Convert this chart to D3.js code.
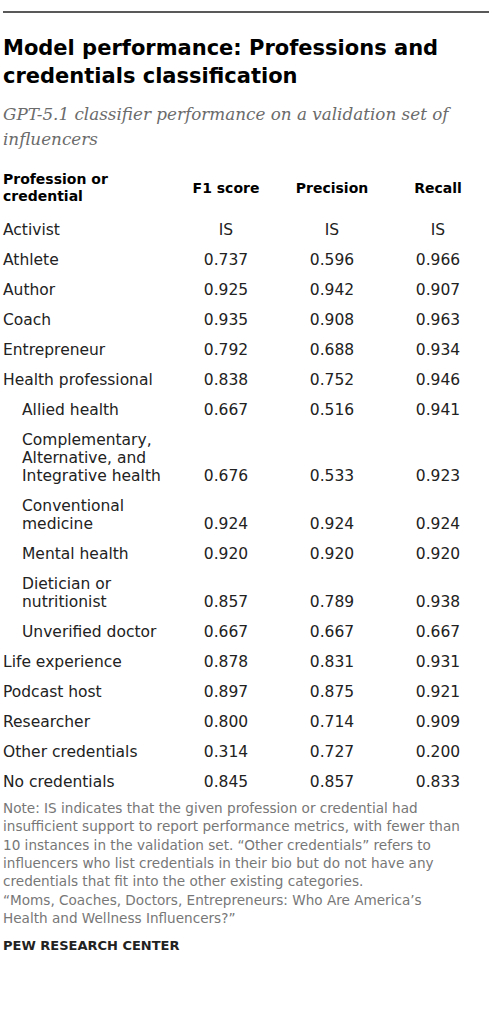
<!DOCTYPE html>
<html><head><meta charset="utf-8">
<script src="https://cdn.jsdelivr.net/npm/d3@7"></script>
<style>body{margin:0;background:#fff}</style>
</head><body><div id="chart"></div>
<script>
// table data
const labels = [["Activist"],["Athlete"],["Author"],["Coach"],["Entrepreneur"],["Health professional"],
  ["Allied health"],["Complementary,","Alternative, and","Integrative health"],["Conventional","medicine"],
  ["Mental health"],["Dietician or","nutritionist"],["Unverified doctor"],["Life experience"],
  ["Podcast host"],["Researcher"],["Other credentials"],["No credentials"]];
const indented = [false,false,false,false,false,false,true,true,true,true,true,true,false,false,false,false,false];
const f1 = ["IS","0.737","0.925","0.935","0.792","0.838","0.667","0.676","0.924","0.920","0.857","0.667","0.878","0.897","0.800","0.314","0.845"];
const precision = ["IS","0.596","0.942","0.908","0.688","0.752","0.516","0.533","0.924","0.920","0.789","0.667","0.831","0.875","0.714","0.727","0.857"];
const recall = ["IS","0.966","0.907","0.963","0.934","0.946","0.941","0.923","0.924","0.920","0.938","0.667","0.931","0.921","0.909","0.200","0.833"];
const columns = ["F1 score","Precision","Recall"];
const noteLines = ["Note: IS indicates that the given profession or credential had",
  "insufficient support to report performance metrics, with fewer than",
  "10 instances in the validation set. “Other credentials” refers to",
  "influencers who list credentials in their bio but do not have any",
  "credentials that fit into the other existing categories.",
  "“Moms, Coaches, Doctors, Entrepreneurs: Who Are America’s",
  "Health and Wellness Influencers?”"];

const W = 491, H = 1022;
const sans = "'DejaVu Sans', 'Liberation Sans', sans-serif";
const svg = d3.select("#chart").append("svg").attr("width", W).attr("height", H);

svg.append("line").attr("x1",3).attr("x2",489).attr("y1",12).attr("y2",12)
  .attr("stroke","#222").attr("stroke-width",1.5);

svg.append("text").attr("x",3).attr("y",55).style("font-family",sans).style("font-weight","bold")
  .style("font-size","21px").attr("fill","#000")
  .selectAll("tspan").data(["Model performance: Professions and","credentials classification"]).enter()
  .append("tspan").attr("x",3).attr("dy",(d,i)=>i?28:0).text(d=>d);

svg.append("text").attr("x",3).attr("y",120).style("font-family","'DejaVu Serif', Georgia, serif")
  .style("font-style","italic").style("font-size","16.8px").attr("fill","#6b6b6b")
  .selectAll("tspan").data(["GPT-5.1 classifier performance on a validation set of","influencers"]).enter()
  .append("tspan").attr("x",3).attr("dy",(d,i)=>i?25:0).text(d=>d);

const x = d3.scalePoint().domain(columns).range([226, 438]);

// header
svg.append("text").attr("x",3).attr("y",184).style("font-family",sans).style("font-weight","bold")
  .style("font-size","14px").selectAll("tspan").data(["Profession or","credential"]).enter()
  .append("tspan").attr("x",3).attr("dy",(d,i)=>i?17:0).text(d=>d);
svg.selectAll(".colhead").data(columns).enter().append("text")
  .attr("x",d=>x(d)).attr("y",193).attr("text-anchor","middle").style("font-family",sans)
  .style("font-weight","bold").style("font-size","14px").text(d=>d);

// row positions: baseline of last line of each row
const lineH = 18, gap = 30;
let yPos = [], y = 235;
labels.forEach((l,i) => { if (i>0) y += gap + (l.length-1)*lineH; yPos.push(y); });

const rows = svg.selectAll(".row").data(labels).enter().append("g")
  .attr("transform",(d,i)=>"translate(0,"+yPos[i]+")");
rows.append("text").style("font-family",sans).style("font-size","15.5px").attr("fill","#222")
  .attr("x",(d,i)=>indented[i] ? 22 : 3)
  .selectAll("tspan").data(d=>d.map((t,j)=>({t,j,n:d.length}))).enter().append("tspan")
  .attr("x",function(){ return d3.select(this.parentNode).attr("x"); })
  .attr("y",d=>-(d.n-1-d.j)*lineH).text(d=>d.t);
[f1,precision,recall].forEach((vals,c) => {
  rows.append("text").attr("x",x(columns[c])).attr("text-anchor","middle")
    .style("font-family",sans).style("font-size","15.5px").attr("fill","#222")
    .text((d,i)=>vals[i]);
});

// note
svg.append("text").attr("y",813).style("font-family",sans).style("font-size","13.6px").attr("fill","#777")
  .selectAll("tspan").data(noteLines).enter().append("tspan").attr("x",3)
  .attr("dy",(d,i)=>i?18.3:0).text(d=>d);

svg.append("text").attr("x",3).attr("y",950).style("font-family",sans).style("font-weight","bold")
  .style("font-size","13px").attr("fill","#222").text("PEW RESEARCH CENTER");
</script></body></html>
